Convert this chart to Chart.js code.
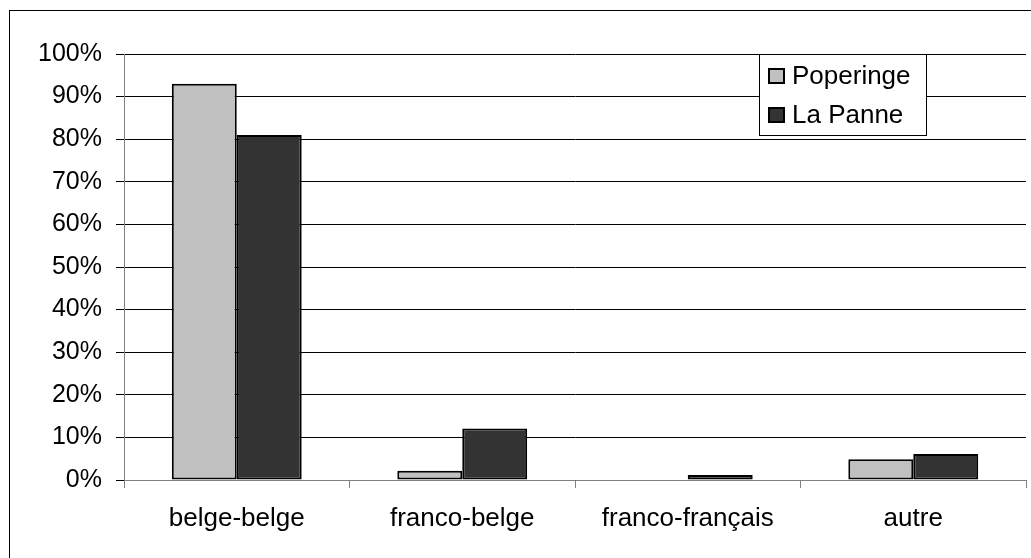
<!DOCTYPE html>
<html>
<head>
<meta charset="utf-8">
<script src="https://cdn.jsdelivr.net/npm/chart.js@4/dist/chart.umd.min.js"></script>
<style>
  html, body { margin: 0; padding: 0; background: #fff; overflow: hidden; }
  .wrap { position: relative; width: 1031px; height: 558px; overflow: hidden; }
  .frame { position: absolute; left: 9px; top: 10px; width: 1100px; height: 700px; border: 1px solid #000; box-sizing: border-box; }
  canvas { position: absolute; left: 0; top: 0; }
</style>
</head>
<body>
<div class="wrap">
  <div class="frame"></div>
  <canvas id="chart" width="1031" height="558"></canvas>
</div>
<script>
  const categories = ["belge-belge", "franco-belge", "franco-français", "autre"];
  const poperinge = [93, 2.2, 0, 4.9];
  const laPanne = [81, 12.1, 1.2, 6.1];
  const seriesNames = ["Poperinge", "La Panne"];
  const seriesColors = ["#c0c0c0", "#333333"];

  const FONT = "'Liberation Sans', Arial, sans-serif";

  // legend box sits inside the plot, top right
  const boxLegend = {
    id: "boxLegend",
    afterDraw(chart) {
      const ctx = chart.ctx;
      const x = 759, y = 54, w = 167, h = 81;
      ctx.save();
      ctx.fillStyle = "#fff";
      ctx.fillRect(x, y, w, h);
      ctx.strokeStyle = "#000";
      ctx.lineWidth = 1;
      ctx.strokeRect(x + 0.5, y + 0.5, w, h);
      ctx.font = "26px " + FONT;
      ctx.textBaseline = "alphabetic";
      chart.data.datasets.forEach((ds, i) => {
        const top = i === 0 ? 68 : 107;
        ctx.fillStyle = ds.backgroundColor;
        ctx.fillRect(768, top, 17, 16);
        ctx.lineWidth = 2;
        ctx.strokeStyle = "#000";
        ctx.strokeRect(769, top + 1, 15, 14);
        ctx.fillStyle = "#000";
        ctx.fillText(ds.label, 792, top + 16);
      });
      ctx.restore();
    },
  };

  new Chart(document.getElementById("chart"), {
    type: "bar",
    data: {
      labels: categories,
      datasets: [
        {
          label: seriesNames[0],
          data: poperinge,
          backgroundColor: seriesColors[0],
          borderColor: "#000",
          borderWidth: 2,
          borderSkipped: false,
          categoryPercentage: 0.576,
          barPercentage: 1,
        },
        {
          label: seriesNames[1],
          data: laPanne,
          backgroundColor: seriesColors[1],
          borderColor: "#000",
          borderWidth: 2,
          borderSkipped: false,
          categoryPercentage: 0.576,
          barPercentage: 1,
        },
      ],
    },
    options: {
      responsive: false,
      animation: false,
      layout: {
        padding: { top: 54, right: 5, left: 0, bottom: 0 },
      },
      plugins: {
        legend: { display: false },
        tooltip: { enabled: false },
      },
      scales: {
        x: {
          grid: {
            offset: true,
            drawOnChartArea: false,
            drawTicks: true,
            tickLength: 8,
            color: "#808080",
          },
          border: { color: "#808080" },
          ticks: {
            color: "#000",
            padding: 15,
            font: { family: FONT, size: 26 },
            maxRotation: 0,
          },
          afterFit(scale) {
            scale.height = 78;
          },
        },
        y: {
          min: 0,
          max: 100,
          grid: {
            color: "#000",
            tickLength: 8,
          },
          border: { color: "#808080" },
          ticks: {
            stepSize: 10,
            color: "#000",
            padding: 14,
            font: { family: FONT, size: 25 },
            callback(value) {
              return value + "%";
            },
          },
          afterFit(scale) {
            scale.width = 124;
          },
        },
      },
    },
    plugins: [boxLegend],
  });
</script>
</body>
</html>
